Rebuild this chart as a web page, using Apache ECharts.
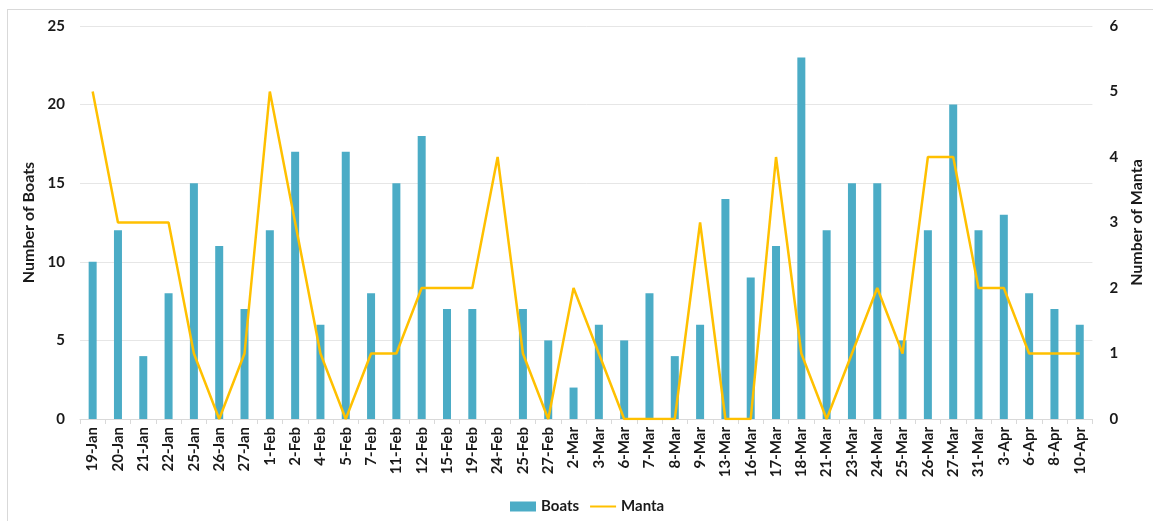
<!DOCTYPE html>
<html>
<head>
<meta charset="utf-8">
<script src="https://cdn.jsdelivr.net/npm/echarts@6/dist/echarts.min.js"></script>
<style>
  html, body { margin: 0; padding: 0; background: #fff; }
  #frame { position: absolute; left: 7px; top: 9px; width: 1160px; height: 540px;
           border: 1px solid #d9d9d9; box-sizing: border-box; }
  #chart { position: absolute; left: 0; top: 0; width: 1153px; height: 521px; }
</style>
</head>
<body>
<div id="frame"></div>
<div id="chart"></div>
<script>
// Survey dates
const dates = ['19-Jan','20-Jan','21-Jan','22-Jan','25-Jan','26-Jan','27-Jan','1-Feb','2-Feb','4-Feb',
  '5-Feb','7-Feb','11-Feb','12-Feb','15-Feb','19-Feb','24-Feb','25-Feb','27-Feb','2-Mar',
  '3-Mar','6-Mar','7-Mar','8-Mar','9-Mar','13-Mar','16-Mar','17-Mar','18-Mar','21-Mar',
  '23-Mar','24-Mar','25-Mar','26-Mar','27-Mar','31-Mar','3-Apr','6-Apr','8-Apr','10-Apr'];

// Boats counted per survey day
const boats = [10,12,4,8,15,11,7,12,17,6,
  17,8,15,18,7,7,0,7,5,2,
  6,5,8,4,6,14,9,11,23,12,
  15,15,5,12,20,12,13,8,7,6];

// Manta sighted per survey day
const manta = [5,3,3,3,1,0,1,5,3,1,
  0,1,1,2,2,2,4,1,0,2,
  1,0,0,0,3,0,0,4,1,0,
  1,2,1,4,4,2,2,1,1,1];

const FONT = 'Lato, "Open Sans", sans-serif';
const TXT = '#1a1a1a';

const chart = echarts.init(document.getElementById('chart'));
chart.setOption({
  animation: false,
  textStyle: { fontFamily: FONT },
  grid: { left: 80, right: 58, top: 26, bottom: 102 },
  legend: {
    left: 505, top: 494,
    itemWidth: 26, itemHeight: 10, itemGap: 10,
    textStyle: { fontFamily: FONT, fontSize: 15, fontWeight: 'bold', color: TXT },
    data: [
      { name: 'Boats', icon: 'rect' },
      { name: 'Manta', itemStyle: { opacity: 0 } }
    ]
  },
  xAxis: {
    type: 'category',
    data: dates,
    axisLine: { lineStyle: { color: '#d9d9d9', width: 1 } },
    axisTick: { show: true, length: 5, lineStyle: { color: '#d9d9d9' } },
    axisLabel: {
      rotate: 90, margin: 8, interval: 0,
      fontFamily: FONT, fontSize: 15, fontWeight: 'bold', color: TXT
    }
  },
  yAxis: [
    {
      type: 'value', min: 0, max: 25, interval: 5,
      name: 'Number of Boats', nameLocation: 'middle', nameGap: 42, nameRotate: 90,
      nameTextStyle: { fontFamily: FONT, fontSize: 16, fontWeight: 'bold', color: TXT },
      axisLine: { show: false }, axisTick: { show: false },
      axisLabel: { margin: 15, fontFamily: FONT, fontSize: 15, fontWeight: 'bold', color: TXT },
      splitLine: { lineStyle: { color: '#e6e6e6', width: 1 } }
    },
    {
      type: 'value', min: 0, max: 6, interval: 1,
      name: 'Number of Manta', nameLocation: 'middle', nameGap: 36, nameRotate: 90,
      nameTextStyle: { fontFamily: FONT, fontSize: 16, fontWeight: 'bold', color: TXT },
      axisLine: { show: false }, axisTick: { show: false },
      axisLabel: { margin: 17, fontFamily: FONT, fontSize: 15, fontWeight: 'bold', color: TXT },
      splitLine: { show: false }
    }
  ],
  series: [
    {
      name: 'Boats', type: 'bar', data: boats, yAxisIndex: 0,
      barWidth: 8,
      itemStyle: { color: '#4BACC6' }
    },
    {
      name: 'Manta', type: 'line', data: manta, yAxisIndex: 1,
      symbol: 'none', smooth: false,
      lineStyle: { color: '#FFC000', width: 2.5 },
      itemStyle: { color: '#FFC000' }
    }
  ]
});
</script>
</body>
</html>
